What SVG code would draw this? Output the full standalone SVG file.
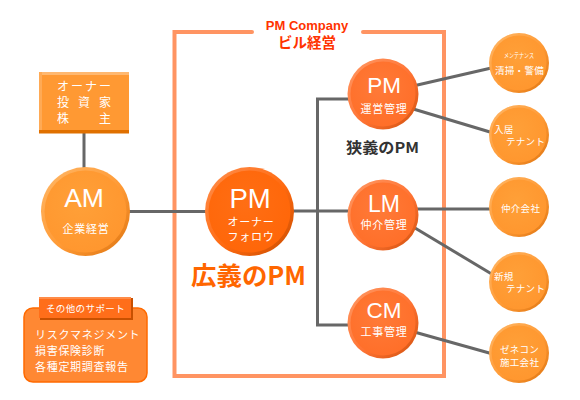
<svg xmlns="http://www.w3.org/2000/svg" width="580" height="400" viewBox="0 0 580 400">
<defs>
<linearGradient id="rimLight" x1="0" y1="0" x2="1" y2="1"><stop offset="0" stop-color="#FFB868"/><stop offset="0.55" stop-color="#FF9A35"/><stop offset="1" stop-color="#DD7410"/></linearGradient>
<radialGradient id="inLight" cx="0.45" cy="0.4" r="0.65"><stop offset="0" stop-color="#FFA038"/><stop offset="1" stop-color="#FF962E"/></radialGradient>
<linearGradient id="rimDark" x1="0" y1="0" x2="1" y2="1"><stop offset="0" stop-color="#FF9A66"/><stop offset="0.55" stop-color="#FF7333"/><stop offset="1" stop-color="#D0500C"/></linearGradient>
<radialGradient id="inDark" cx="0.45" cy="0.4" r="0.65"><stop offset="0" stop-color="#FF7A38"/><stop offset="1" stop-color="#FF6E28"/></radialGradient>
<linearGradient id="rimDeep" x1="0" y1="0" x2="1" y2="1"><stop offset="0" stop-color="#FF9050"/><stop offset="0.55" stop-color="#FF6A10"/><stop offset="1" stop-color="#C84C00"/></linearGradient>
<radialGradient id="inDeep" cx="0.45" cy="0.4" r="0.65"><stop offset="0" stop-color="#FF6E14"/><stop offset="1" stop-color="#FF6608"/></radialGradient>
</defs>
<style>
.conn{fill:none;stroke:#676767;stroke-width:3}
.frame{fill:none;stroke:#FF9462;stroke-width:4;stroke-linecap:round}
.jp{font-family:"Noto Sans CJK JP","Noto Sans",sans-serif}
.en{font-family:"Liberation Sans",Arial,sans-serif}
.w{fill:#FFFFFF}
.c{text-anchor:middle}
.big{font-family:"Liberation Sans",Arial,sans-serif;fill:#FFFFFF;text-anchor:middle}
.sub{font-family:"Noto Sans CJK JP",sans-serif;fill:#FFFFFF;text-anchor:middle;font-size:11px;letter-spacing:0.7px}
.sm{font-family:"Noto Sans CJK JP",sans-serif;fill:#FFFFFF;font-size:9.5px;letter-spacing:0.3px}
.rimL{fill:url(#rimLight)}.inL{fill:url(#inLight)}
.rimD{fill:url(#rimDark)}.inD{fill:url(#inDark)}
.rimP{fill:url(#rimDeep)}.inP{fill:url(#inDeep)}
</style>

<path class="frame" d="M252,32 H174.5 V376 H444 V32 H363"/>
<g id="title">
<text class="en c" x="307" y="30" font-size="13" font-weight="bold" fill="#FF3300">PM Company</text>
<text class="jp c" x="307" y="48" font-size="14.5" font-weight="bold" fill="#FF3300">ビル経営</text>
</g>

<g id="connectors">
<path class="conn" d="M84,133 V168"/>
<path class="conn" d="M129,211.5 H207"/>
<path class="conn" d="M293,211 H350"/>
<path class="conn" d="M350,99 H317.5 V325 H350"/>
<path class="conn" d="M400,89 L500,66"/>
<path class="conn" d="M400,105 L500,135"/>
<path class="conn" d="M410,209 H500"/>
<path class="conn" d="M400,219 L500,279"/>
<path class="conn" d="M400,328 L500,356"/>
</g>

<g id="owner">
<rect x="39" y="72" width="90" height="61" fill="#FF9933"/>
<rect x="39" y="72" width="90" height="3" fill="#FFB870"/>
<rect x="39" y="72" width="3" height="58" fill="#FFAA55"/>
<rect x="39" y="130" width="90" height="3.5" fill="#E07000"/>
<text class="jp w" x="57" y="91" font-size="12" letter-spacing="2">オーナー</text>
<text class="jp w" x="57 78 99" y="107" font-size="12">投資家</text>
<text class="jp w" x="57 99" y="123" font-size="12">株主</text>
</g>

<g id="am">
<circle class="rimL" cx="85.5" cy="211.5" r="44.5"/>
<circle class="inL" cx="85.5" cy="211.5" r="41"/>
<text class="big" x="84" y="207" font-size="26.5">AM</text>
<text class="sub" x="86" y="233" font-size="13">企業経営</text>
</g>

<g id="pm-owner">
<circle class="rimP" cx="249.5" cy="211.5" r="44.5"/>
<circle class="inP" cx="249.5" cy="211.5" r="41"/>
<text class="big" x="250" y="207.5" font-size="27.5">PM</text>
<text class="sub" x="251" y="226" font-size="9.5" letter-spacing="1.8">オーナー</text>
<text class="sub" x="251" y="241" font-size="9.5" letter-spacing="1.8">フォロウ</text>
</g>

<g id="pm-op">
<circle class="rimD" cx="383" cy="94" r="35.5"/>
<circle class="inD" cx="383" cy="94" r="32.5"/>
<text class="big" x="384" y="92.5" font-size="22.5">PM</text>
<text class="sub" x="384" y="113">運営管理</text>
</g>

<g id="lm">
<circle class="rimD" cx="383" cy="215" r="35.5"/>
<circle class="inD" cx="383" cy="215" r="32.5"/>
<text class="big" x="384" y="212" font-size="23">LM</text>
<text class="sub" x="384" y="228.5">仲介管理</text>
</g>

<g id="cm">
<circle class="rimD" cx="383" cy="323" r="35.5"/>
<circle class="inD" cx="383" cy="323" r="32.5"/>
<text class="big" x="384" y="318" font-size="22.5">CM</text>
<text class="sub" x="384" y="336">工事管理</text>
</g>

<text id="narrow-pm" class="jp" x="346" y="153" font-size="15" font-weight="bold" fill="#333333" textLength="73" lengthAdjust="spacingAndGlyphs">狭義のPM</text>
<text id="broad-pm" class="jp" x="191" y="285" font-size="25" font-weight="bold" fill="#FF6600" textLength="115" lengthAdjust="spacingAndGlyphs">広義のPM</text>

<g id="maintenance">
<circle class="rimL" cx="519" cy="63" r="30"/>
<circle class="inL" cx="519" cy="63" r="27.5"/>
<text class="jp w" x="504" y="58" font-size="6.5" textLength="30" lengthAdjust="spacingAndGlyphs">メンテナンス</text>
<text class="sm" x="495" y="74" font-size="10">清掃・警備</text>
</g>

<g id="tenant-in">
<circle class="rimL" cx="519" cy="135" r="30"/>
<circle class="inL" cx="519" cy="135" r="27.5"/>
<text class="sm" x="494" y="133">入居</text>
<text class="sm" x="506" y="145">テナント</text>
</g>

<g id="broker">
<circle class="rimL" cx="519" cy="207" r="30"/>
<circle class="inL" cx="519" cy="207" r="27.5"/>
<text class="sm" x="501" y="212">仲介会社</text>
</g>

<g id="tenant-new">
<circle class="rimL" cx="519" cy="282" r="30"/>
<circle class="inL" cx="519" cy="282" r="27.5"/>
<text class="sm" x="494" y="280">新規</text>
<text class="sm" x="506" y="292">テナント</text>
</g>

<g id="contractor">
<circle class="rimL" cx="519" cy="353" r="30"/>
<circle class="inL" cx="519" cy="353" r="27.5"/>
<text class="sm" x="500" y="353" font-size="9">ゼネコン</text>
<text class="sm" x="500" y="366" font-size="9">施工会社</text>
</g>

<g id="support">
<rect x="24" y="308" width="123" height="74" rx="9" fill="#FF8833" stroke="#FF6A00" stroke-width="1.5"/>
<rect x="40" y="298" width="93" height="22" fill="#C85000"/>
<rect x="39" y="297" width="92" height="21" fill="#FF6E1A"/>
<rect x="39" y="297" width="92" height="2" fill="#FF8C48"/>
<text class="jp w c" x="85.5" y="312" font-size="9.5" letter-spacing="0.4">その他のサポート</text>
<text class="jp w" x="35" y="339" font-size="11" letter-spacing="0.7">リスクマネジメント</text>
<text class="jp w" x="35" y="355" font-size="11" letter-spacing="0.7">損害保険診断</text>
<text class="jp w" x="35" y="371" font-size="11" letter-spacing="0.7">各種定期調査報告</text>
</g>
</svg>
